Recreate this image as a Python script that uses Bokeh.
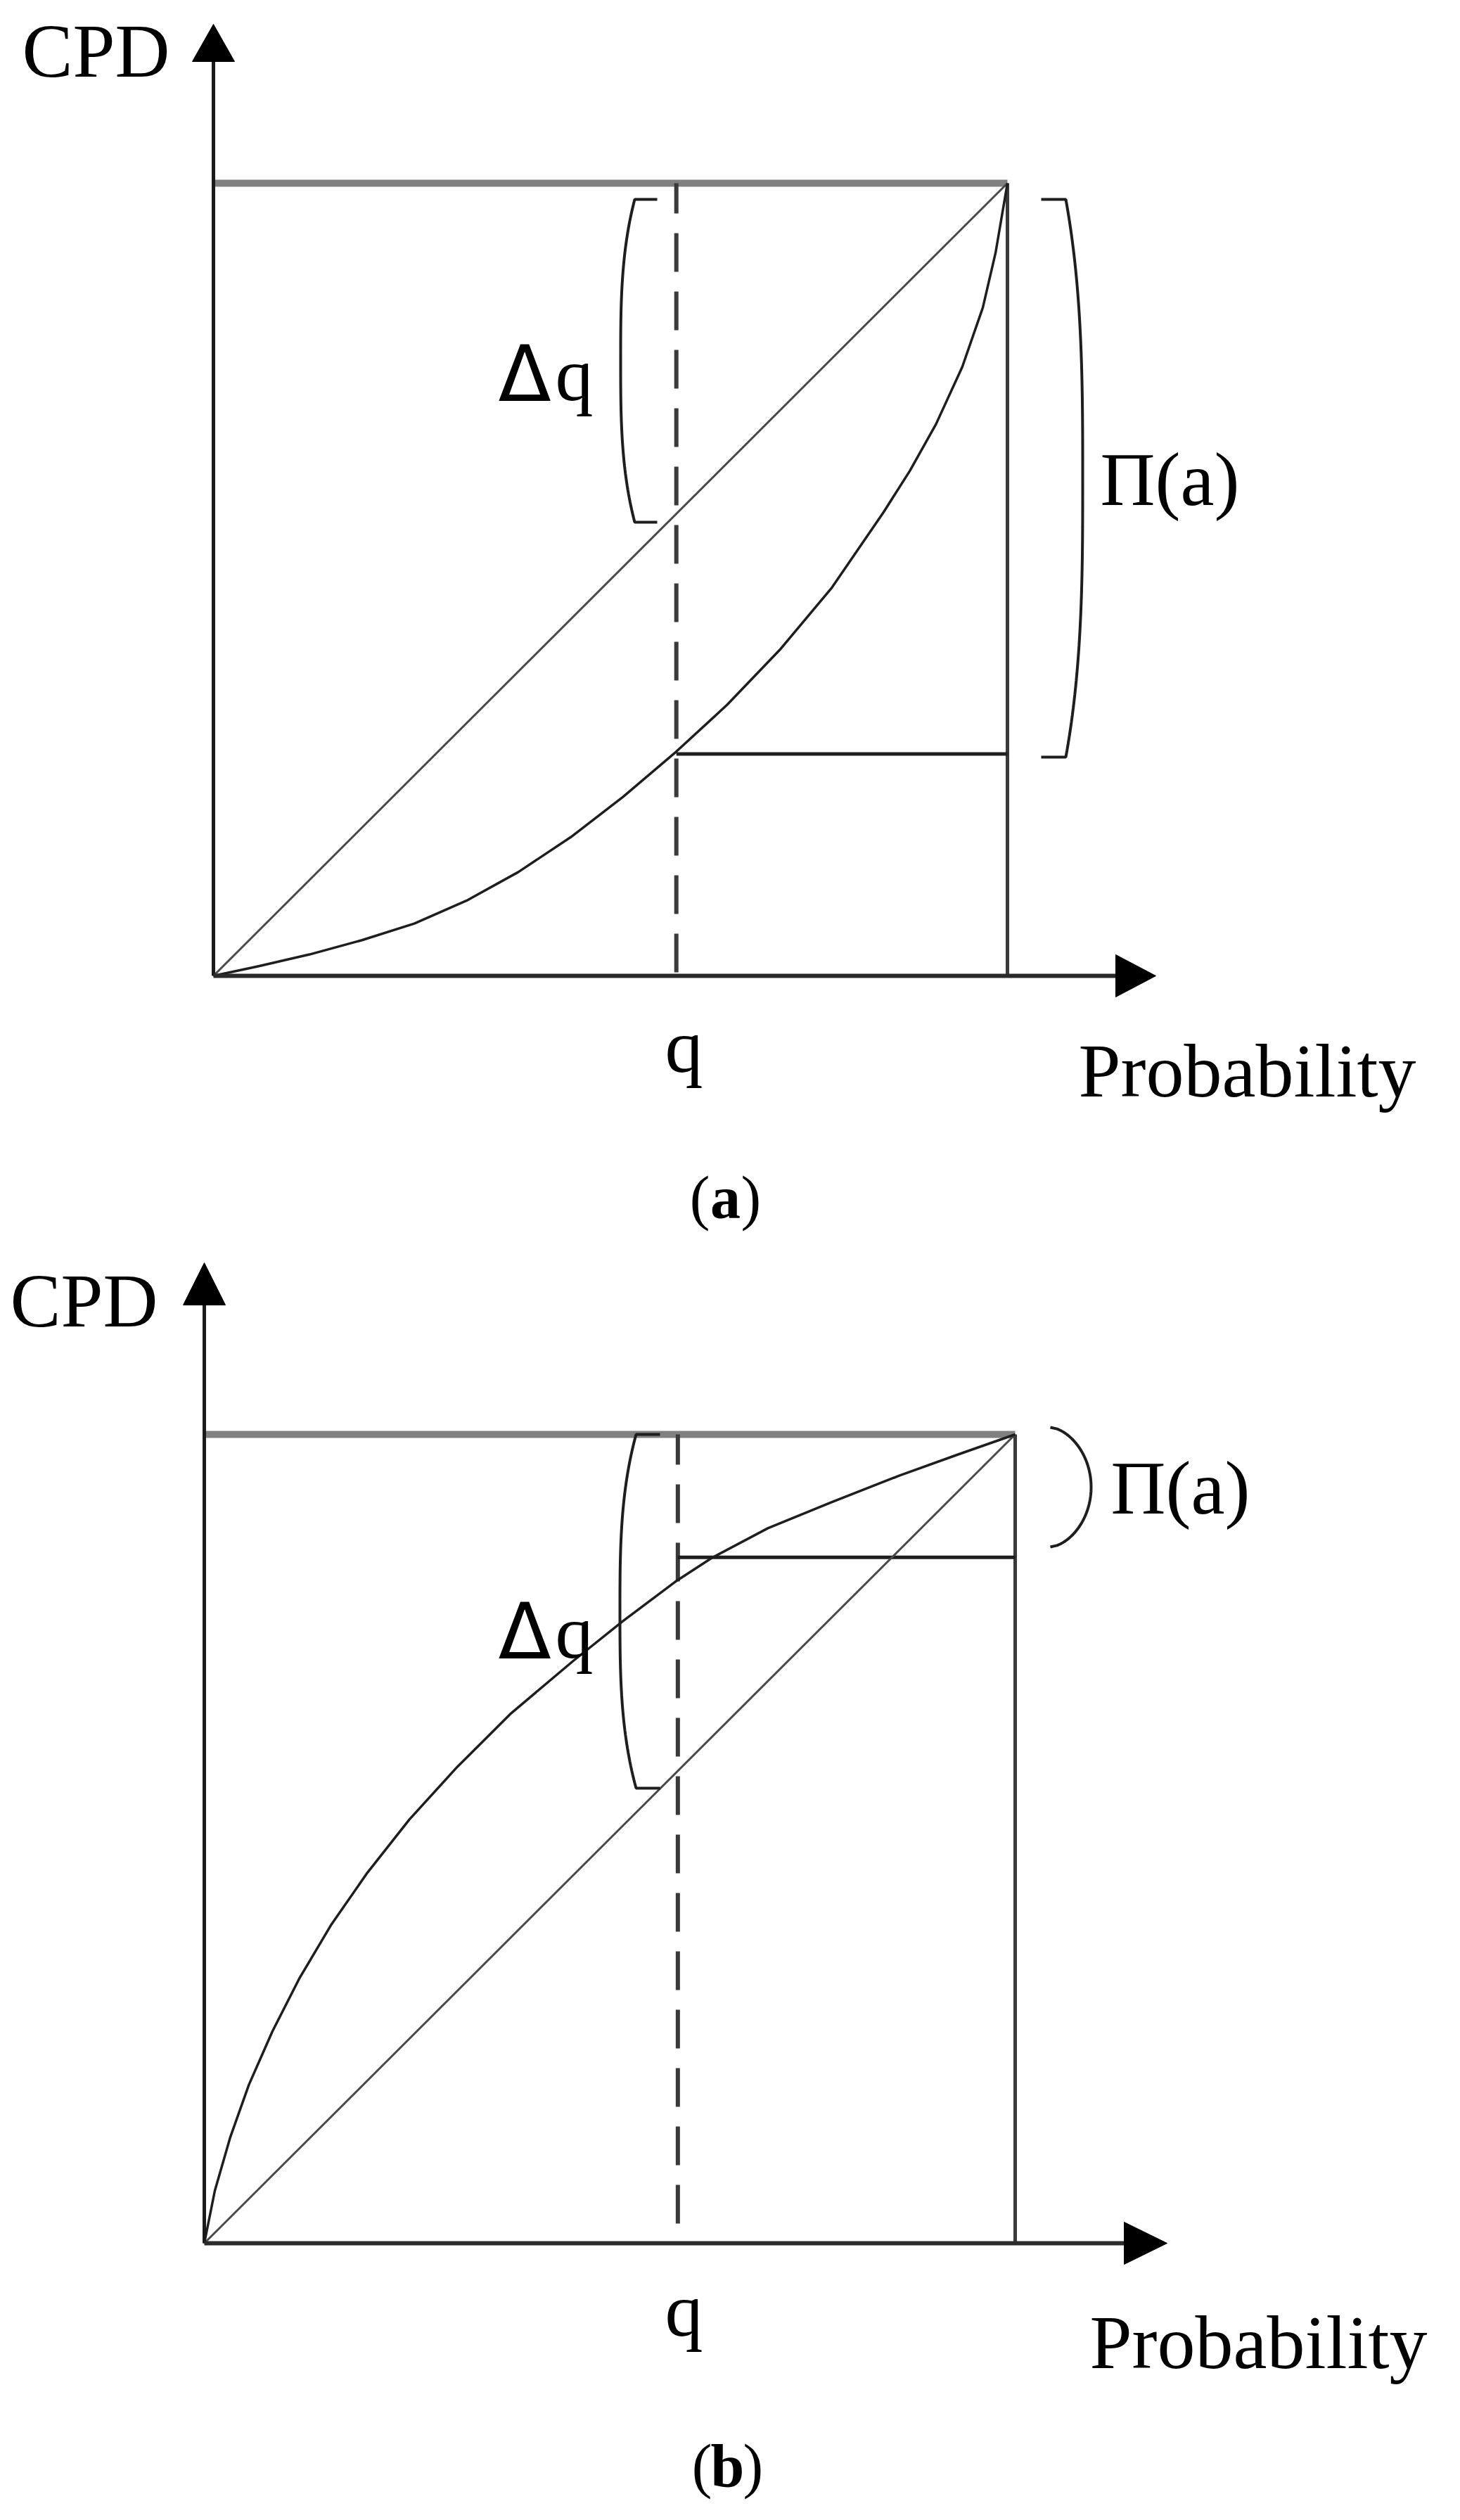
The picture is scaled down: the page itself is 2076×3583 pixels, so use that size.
from bokeh.plotting import figure
from bokeh.layouts import column
from bokeh.core.properties import value
from bokeh.embed import file_html
from bokeh.resources import INLINE

# ---------------- data (unit box 0..1) ----------------
diag_x = [0.0, 1.0]
diag_y = [0.0, 1.0]

# panel (a): convex CPD curve
q_a = 0.583
level_a = 0.280
curve_a_x = [0.0, 0.056, 0.121, 0.187, 0.253, 0.319, 0.384, 0.450, 0.516, 0.583,
             0.647, 0.713, 0.779, 0.844, 0.877, 0.910, 0.943, 0.969, 0.985, 1.0]
curve_a_y = [0.0, 0.012, 0.027, 0.045, 0.066, 0.095, 0.131, 0.175, 0.226, 0.283,
             0.342, 0.411, 0.490, 0.585, 0.637, 0.696, 0.768, 0.843, 0.912, 1.0]

# panel (b): concave CPD curve
q_b = 0.584
level_b = 0.848
curve_b_x = [0.0, 0.013, 0.032, 0.055, 0.084, 0.117, 0.156, 0.201, 0.253, 0.312,
             0.377, 0.455, 0.516, 0.581, 0.627, 0.695, 0.773, 0.857, 0.929, 1.0]
curve_b_y = [0.0, 0.065, 0.131, 0.196, 0.262, 0.327, 0.393, 0.458, 0.524, 0.589,
             0.654, 0.720, 0.769, 0.818, 0.848, 0.884, 0.916, 0.949, 0.975, 1.0]

y_label = "CPD"
x_label = "Probability"
q_label = "q"
delta_sym = "\u0394"
pi_label = "\u03a0(a)"
panel_letters = ["a", "b"]

SERIF = value("Liberation Serif")
SANS = value("DejaVu Sans")
FW = 2060


def make_panel(fig_top, fig_h, box):
    L, R, T, B = box
    sx, sy = R - L, B - T
    x0 = (8 - L) / sx
    x1 = (8 + FW - L) / sx
    yt = (B - fig_top) / sy
    yb = (B - (fig_top + fig_h)) / sy
    p = figure(width=FW, height=fig_h, x_range=(x0, x1), y_range=(yb, yt),
               output_backend="svg", toolbar_location=None, min_border=0,
               x_axis_location=None, y_axis_location=None)
    p.grid.visible = False
    p.outline_line_color = None
    p.background_fill_color = "white"
    p.border_fill_color = "white"
    X = lambda px: (px - L) / sx
    Y = lambda py: (B - py) / sy
    return p, X, Y


def bracket(X, Y, xs_end, xc, xo, yt, yb, pw, round_ends=False):
    xs, ys = [], []
    if xs_end != xc:
        xs, ys = [X(xs_end)], [Y(yt)]
    mid, half = (yt + yb) / 2, (yb - yt) / 2
    n = 80
    for i in range(n + 1):
        s = -1 + 2 * i / n
        if round_ends:
            f = 1 - (1 - s * s) ** 0.6
        else:
            f = abs(s) ** pw
        xs.append(X(xo + (xc - xo) * f))
        ys.append(Y(mid + s * half))
    if xs_end != xc:
        xs.append(X(xs_end))
        ys.append(Y(yb))
    return xs, ys


def draw_panel(p, X, Y, q, level, cx, cy, g):
    p.line([0, 1], [1, 1], line_color="#808080", line_width=10)
    p.line([1, 1], [0, 1], line_color="#3a3a3a", line_width=5)
    p.line([q, q], [1, 0], line_color="#3a3a3a", line_width=6,
           line_dash="55 28", line_dash_offset=12)
    p.line([q, 1], [level, level], line_color="#1e1e1e", line_width=5)
    p.line(diag_x, diag_y, line_color="#4a4a4a", line_width=3)
    p.line(cx, cy, line_color="#1e1e1e", line_width=3.5, line_join="round")
    L, B = g["L"], g["B"]
    p.line([0, 0], [0, Y(g["yarrow_base"])], line_color="#1a1a1a", line_width=5)
    p.line([0, X(g["xarrow_base"])], [0, 0], line_color="#2a2a2a", line_width=6)
    ya, yab = g["yarrow_tip"], g["yarrow_base"]
    p.patch([X(L - 30), X(L), X(L + 30)], [Y(yab), Y(ya), Y(yab)],
            fill_color="black", line_color="black", line_width=1)
    xb, xt = g["xarrow_base"], g["xarrow_tip"]
    p.patch([X(xb), X(xt), X(xb)], [Y(B - 30), Y(B), Y(B + 30)],
            fill_color="black", line_color="black", line_width=1)
    bx, by = bracket(X, Y, *g["dq_br"])
    p.line(bx, by, line_color="#1e1e1e", line_width=4)
    bx, by = bracket(X, Y, *g["pi_br"])
    p.line(bx, by, line_color="#1e1e1e", line_width=4)

    def txt(px, py, t, font=SERIF, size=108, align="left", bold=False):
        py = py - 0.28 * size  # renderer places alphabetic baseline lower
        p.text(x=[X(px)], y=[Y(py)], text=[t], text_font=font,
               text_font_size=value(f"{size}px"), text_align=align,
               text_baseline="alphabetic", text_color="black",
               text_font_style="bold" if bold else "normal")
    txt(g["cpd"][0], g["cpd"][1], y_label)
    txt(g["q"][0], g["q"][1], q_label, align="center")
    txt(g["prob"][0], g["prob"][1], x_label)
    txt(g["dq"][0], g["dq"][1], delta_sym, font=SANS, size=110)
    txt(g["dq"][0] + 81, g["dq"][1], q_label)
    txt(g["pi"][0], g["pi"][1], pi_label)
    lx, ly = g["letter"]
    txt(lx - 22, ly, "(", size=86, align="right")
    txt(lx, ly, g["let"], size=86, align="center", bold=True)
    txt(lx + 22, ly, ")", size=86, align="left")


# panel (a)
ga = dict(L=311, B=1395, yarrow_tip=42, yarrow_base=95, xarrow_base=1594, xarrow_tip=1651,
          dq_br=(942, 910, 890, 291, 750, 3), pi_br=(1488, 1523, 1547, 291, 1084, 3),
          cpd=(39, 110), q=(980, 1525), prob=(1541, 1560), dq=(716, 570), pi=(1572, 719),
          letter=(1039, 1735), let=panel_letters[0])
pa, Xa, Ya = make_panel(8, 1782, (311, 1440, 268, 1395))
draw_panel(pa, Xa, Ya, q_a, level_a, curve_a_x, curve_a_y, ga)

# panel (b)
gb = dict(L=298, B=3197, yarrow_tip=1803, yarrow_base=1863, xarrow_base=1606, xarrow_tip=1667,
          dq_br=(946, 912, 889, 2047, 2550, 3),
          pi_br=(1501, 1501, 1559, 2037, 2207, 2, True),
          cpd=(22, 1887), q=(980, 3322), prob=(1557, 3368), dq=(716, 2358), pi=(1587, 2153),
          letter=(1042, 3538), let=panel_letters[1])
pb, Xb, Yb = make_panel(1790, 1785, (298, 1451, 2047, 3197))
draw_panel(pb, Xb, Yb, q_b, level_b, curve_b_x, curve_b_y, gb)

layout = column(pa, pb, spacing=0)
open("out.html", "w").write(file_html(layout, INLINE))
